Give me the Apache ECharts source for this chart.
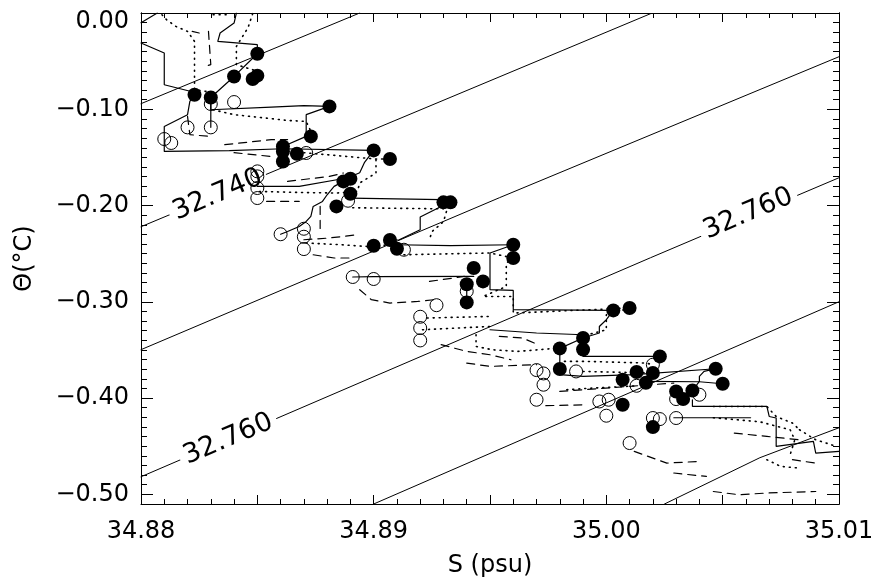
<!DOCTYPE html>
<html><head><meta charset="utf-8">
<script src="https://cdn.jsdelivr.net/npm/echarts@6.0.0/dist/echarts.min.js"></script>
<style>html,body{margin:0;padding:0;background:#fff}#c{width:871px;height:581px}</style>
</head><body><div id="c"></div>
<script>
// ---- axes ----
const xRange = [34.88, 34.91];
const yRange = [-0.51, 0.0];
const xTickValues = [34.88, 34.89, 34.90, 34.91];
const xTickLabels = ['34.88', '34.89', '35.00', '35.01'];
const yTickValues = [-0.5, -0.4, -0.3, -0.2, -0.1, 0.0];
const yTickLabels = ['\u22120.50', '\u22120.40', '\u22120.30', '\u22120.20', '\u22120.10', '0.00'];
const xAxisName = 'S (psu)';
const yAxisName = '\u0398(\u00B0C)';

// ---- isopycnal contours (S, Theta) ----
const contour1 = [[34.8800, -0.0942], [34.8894, 0.0]];
const contour2 = [[34.8800, -0.2220], [34.9019, -0.0007]];
const contour3 = [[34.8800, -0.3497], [34.8954, -0.1919], [34.9100, -0.0454]];
const contour4 = [[34.8800, -0.4817], [34.9019, -0.2542], [34.9100, -0.1711]];
const contour5 = [[34.8900, -0.5100], [34.9100, -0.2999]];
const contour6 = [[34.9025, -0.5100], [34.9066, -0.4619], [34.9100, -0.4308]];
const contourLabelText = ['32.740', '32.760', '32.760'];
const contourLabelS = [34.8833, 34.88375, 34.9061];
const contourLabelT = [-0.1888, -0.4427, -0.2085];

// ---- solid profiles ----
const s1 = [[34.8800,-0.0101],[34.8807,0.0]];
const s2 = [[34.8800,-0.0312],[34.8810,-0.0416],[34.8810,-0.0745],[34.8822,-0.0818],[34.8823,-0.0849]];
const s3 = [[34.8841,0.0],[34.8840,-0.0104],[34.8834,-0.0208],[34.8833,-0.0295],[34.8850,-0.0329],[34.8850,-0.0423]];
const s4 = [[34.8830,-0.0877],[34.8840,-0.0659],[34.8850,-0.0423]];
const s5 = [[34.8823,-0.0849],[34.8821,-0.0918],[34.8820,-0.1056],[34.8810,-0.1178],[34.8810,-0.1438],[34.8838,-0.1430],[34.8861,-0.1410],[34.8900,-0.1427]];
const s6 = [[34.8830,-0.0877],[34.8830,-0.1005],[34.8856,-0.0977],[34.8870,-0.0963],[34.8881,-0.0970]];
const s7 = [[34.8881,-0.0970],[34.8871,-0.1056],[34.8871,-0.1282],[34.8861,-0.1386]];
const s8 = [[34.8900,-0.1427],[34.8896,-0.1555],[34.8894,-0.1659],[34.8890,-0.1701],[34.8887,-0.1749],[34.8883,-0.1801],[34.8880,-0.1888],[34.8878,-0.1957],[34.8874,-0.2009],[34.8873,-0.2113],[34.8871,-0.2165],[34.8868,-0.2217],[34.8863,-0.2269],[34.8860,-0.2298]];
const s9 = [[34.8850,-0.1801],[34.8868,-0.1801],[34.8886,-0.1724],[34.8890,-0.1721]];
const s10 = [[34.8890,-0.1922],[34.8929,-0.1939],[34.8933,-0.1967]];
const s11 = [[34.8930,-0.1967],[34.8929,-0.2009],[34.8920,-0.2119],[34.8920,-0.2251],[34.8911,-0.2355],[34.8907,-0.2358]];
const s12 = [[34.8910,-0.2407],[34.8933,-0.2417],[34.8960,-0.2407]];
const s13 = [[34.8960,-0.2407],[34.8950,-0.2493],[34.8950,-0.2874],[34.8960,-0.2882],[34.8960,-0.3082],[34.9003,-0.3089]];
const s14 = [[34.8891,-0.2742],[34.8900,-0.2739],[34.8943,-0.2736]];
const s15 = [[34.9003,-0.3089],[34.9000,-0.3186],[34.8997,-0.3256],[34.8997,-0.3324],[34.8990,-0.3376]];
const s16 = [[34.8950,-0.3290],[34.8970,-0.3324],[34.8990,-0.3342]];
const s17 = [[34.8990,-0.3567],[34.9023,-0.3567]];
const s18 = [[34.8980,-0.3757],[34.8990,-0.3775],[34.9012,-0.3757],[34.9047,-0.3695]];
const s19 = [[34.9047,-0.3695],[34.9042,-0.3723],[34.9040,-0.3775],[34.9040,-0.3827],[34.9037,-0.3921]];
const s20 = [[34.9017,-0.3827],[34.9040,-0.3830],[34.9050,-0.3851]];
const s21 = [[34.9037,-0.4017],[34.9037,-0.4087],[34.9069,-0.4087],[34.9070,-0.4191],[34.9073,-0.4207],[34.9073,-0.4502],[34.9089,-0.4450],[34.9090,-0.4571],[34.9100,-0.4554]];
const s22 = [[34.9029,-0.4204],[34.9062,-0.4204]];
const s23 = [[34.8980,-0.3484],[34.8990,-0.3376]];
const s24 = [[34.8980,-0.3484],[34.8980,-0.3698]];
const s25 = [[34.8940,-0.2817],[34.8940,-0.3006]];
const s26 = [[34.8830,-0.0945],[34.8830,-0.1188]];
const solidProfiles = [s1,s2,s3,s4,s5,s6,s7,s8,s9,s10,s11,s12,s13,s14,s15,s16,s17,s18,s19,s20,s21,s22,s23,s24,s25,s26];

// ---- dotted profiles ----
const d1 = [[34.8809,-0.0018],[34.8811,-0.0070],[34.8815,-0.0139],[34.8820,-0.0191],[34.8823,-0.0295],[34.8823,-0.0797],[34.8828,-0.0814]];
const d2 = [[34.8831,-0.0018],[34.8838,-0.0018]];
const d3 = [[34.8848,-0.0007],[34.8846,-0.0153],[34.8841,-0.0347],[34.8841,-0.0537],[34.8848,-0.0589],[34.8850,-0.0610]];
const d4 = [[34.8831,-0.1005],[34.8840,-0.1056],[34.8863,-0.1116],[34.8871,-0.1126],[34.8873,-0.1230],[34.8873,-0.1282]];
const d5 = [[34.8870,-0.1451],[34.8901,-0.1517],[34.8907,-0.1517]];
const d6 = [[34.8901,-0.1524],[34.8901,-0.1662],[34.8894,-0.1766],[34.8893,-0.1853],[34.8884,-0.1870],[34.8868,-0.1864],[34.8850,-0.1853]];
const d7 = [[34.8891,-0.2023],[34.8926,-0.2033],[34.8930,-0.2033]];
const d8 = [[34.8932,-0.2002],[34.8930,-0.2168],[34.8925,-0.2272],[34.8924,-0.2355]];
const d9 = [[34.8871,-0.2389],[34.8886,-0.2407],[34.8897,-0.2425],[34.8907,-0.2407]];
const d10 = [[34.8913,-0.2511],[34.8950,-0.2493],[34.8960,-0.2545]];
const d11 = [[34.8960,-0.2545],[34.8957,-0.2597],[34.8957,-0.2840],[34.8947,-0.2944],[34.8960,-0.2944],[34.8960,-0.3117],[34.9010,-0.3064]];
const d12 = [[34.9010,-0.3064],[34.9000,-0.3134],[34.9000,-0.3290],[34.8992,-0.3342],[34.8990,-0.3495]];
const d13 = [[34.8921,-0.3290],[34.8950,-0.3256]];
const d14 = [[34.8923,-0.3168],[34.8950,-0.3152]];
const d15 = [[34.8944,-0.3342],[34.8944,-0.3463],[34.8951,-0.3498],[34.8962,-0.3515],[34.8980,-0.3480]];
const d16 = [[34.8982,-0.3619],[34.8992,-0.3619],[34.9017,-0.3636],[34.9020,-0.3653]];
const d17 = [[34.8990,-0.3723],[34.9020,-0.3740]];
const d18 = [[34.8983,-0.3913],[34.8994,-0.3896],[34.9004,-0.3885],[34.9013,-0.3872]];
const d19 = [[34.9046,-0.4087],[34.9069,-0.4087],[34.9073,-0.4191],[34.9080,-0.4259],[34.9083,-0.4329]];
const d20 = [[34.9069,-0.4640],[34.9075,-0.4710],[34.9083,-0.4727]];
const d21 = [[34.9083,-0.4329],[34.9090,-0.4433],[34.9099,-0.4502]];
const d22 = [[34.9046,-0.4204],[34.9066,-0.4246],[34.9079,-0.4329],[34.9081,-0.4433],[34.9079,-0.4588]];
const dottedProfiles = [d1,d2,d3,d4,d5,d6,d7,d8,d9,d10,d11,d12,d13,d14,d15,d16,d17,d18,d19,d20,d21,d22];

// ---- dashed profiles ----
const h1 = [[34.8822,-0.0191],[34.8825,-0.0208]];
const h2 = [[34.8829,-0.0191],[34.8830,-0.0537],[34.8827,-0.0555]];
const h3 = [[34.8820,-0.1074],[34.8821,-0.1264],[34.8830,-0.1282]];
const h4 = [[34.8836,-0.1368],[34.8856,-0.1316],[34.8863,-0.1316]];
const h5 = [[34.8840,-0.1451],[34.8856,-0.1490]];
const h6 = [[34.8863,-0.1749],[34.8881,-0.1697],[34.8887,-0.1662]];
const h7 = [[34.8854,-0.1957],[34.8868,-0.1957]];
const h8 = [[34.8877,-0.2009],[34.8877,-0.2285]];
const h9 = [[34.8870,-0.2355],[34.8881,-0.2337],[34.8893,-0.2303]];
const h10 = [[34.8874,-0.2511],[34.8883,-0.2545],[34.8890,-0.2545]];
const h11 = [[34.8894,-0.2874],[34.8899,-0.2978],[34.8907,-0.3013],[34.8919,-0.2996],[34.8926,-0.2978]];
const h12 = [[34.8924,-0.2788],[34.8939,-0.2736]];
const h13 = [[34.8954,-0.3359],[34.8964,-0.3376],[34.8969,-0.3428]];
const h14 = [[34.8940,-0.3636],[34.8950,-0.3671],[34.8970,-0.3653]];
const h15 = [[34.8980,-0.3931],[34.9029,-0.3844]];
const h16 = [[34.8974,-0.4079],[34.8992,-0.4069]];
const h17 = [[34.9012,-0.4554],[34.9026,-0.4675],[34.9040,-0.4658]];
const h18 = [[34.9029,-0.4778],[34.9043,-0.4814]];
const h19 = [[34.9046,-0.4970],[34.9057,-0.5004],[34.9069,-0.4986],[34.9090,-0.4970]];
const h20 = [[34.9055,-0.4363],[34.9069,-0.4398],[34.9083,-0.4433]];
const h21 = [[34.9080,-0.4640],[34.9090,-0.4675]];
const h22 = [[34.8929,-0.3445],[34.8940,-0.3515],[34.8950,-0.3550],[34.8959,-0.3602]];
const dashedProfiles = [h1,h2,h3,h4,h5,h6,h7,h8,h9,h10,h11,h12,h13,h14,h15,h16,h17,h18,h19,h20,h21,h22];

// ---- circle markers ----
const filledS = [34.8850,34.8840,34.8848,34.8850,34.8823,34.8830,34.8881,34.8861,34.8861,34.8867,34.8861,34.8873,34.8900,34.8907,34.8887,34.8890,34.8890,34.8884,34.8930,34.8933,34.8900,34.8907,34.8910,34.8960,34.8960,34.8943,34.8947,34.8940,34.8940,34.9003,34.9010,34.8990,34.8990,34.8980,34.8980,34.9023,34.9013,34.9020,34.9007,34.9017,34.9047,34.9050,34.9030,34.9037,34.9033,34.9007,34.9020];
const filledT = [-0.0423,-0.0659,-0.0686,-0.0651,-0.0849,-0.0877,-0.0970,-0.1386,-0.1438,-0.1462,-0.1542,-0.1282,-0.1427,-0.1517,-0.1749,-0.1721,-0.1877,-0.2009,-0.1967,-0.1967,-0.2417,-0.2358,-0.2448,-0.2407,-0.2545,-0.2649,-0.2788,-0.2817,-0.3006,-0.3089,-0.3064,-0.3376,-0.3495,-0.3484,-0.3698,-0.3567,-0.3729,-0.3740,-0.3809,-0.3840,-0.3695,-0.3851,-0.3931,-0.3921,-0.4010,-0.4069,-0.4301];
const openS = [34.8830,34.8840,34.8820,34.8830,34.8810,34.8813,34.8871,34.8850,34.8850,34.8850,34.8850,34.8889,34.8860,34.8870,34.8870,34.8870,34.8913,34.8891,34.8900,34.8940,34.8927,34.8920,34.8920,34.8920,34.8970,34.8973,34.8973,34.8970,34.8987,34.9013,34.8997,34.9001,34.9000,34.9020,34.9040,34.9030,34.9020,34.9023,34.9030,34.9010];
const openT = [-0.0945,-0.0925,-0.1188,-0.1188,-0.1309,-0.1350,-0.1454,-0.1645,-0.1697,-0.1818,-0.1922,-0.1950,-0.2298,-0.2241,-0.2324,-0.2452,-0.2459,-0.2742,-0.2763,-0.2890,-0.3035,-0.3155,-0.3272,-0.3401,-0.3709,-0.3744,-0.3861,-0.4017,-0.3723,-0.3872,-0.4035,-0.4017,-0.4183,-0.3653,-0.3965,-0.4010,-0.4207,-0.4218,-0.4207,-0.4467];

// ---- build ----
const FONT = 'DejaVu Sans';
const yMinorTicks = [];
for (let k = 0; k <= 51; k++) yMinorTicks.push(+(yRange[0] + k * 0.01).toFixed(2));

function lineSeries(data, type, width, z) {
  return { type: 'line', data: data, symbol: 'none', silent: true, clip: true, z: z,
    xAxisIndex: 0, yAxisIndex: 0, lineStyle: { color: '#000', width: width, type: type, cap: 'round' } };
}
const series = [];
[contour1, contour2, contour3, contour4, contour5, contour6].forEach(c => series.push(lineSeries(c, 'solid', 1, 1)));
series.push({
  type: 'scatter', z: 2, silent: true, symbolSize: 0,
  itemStyle: { color: 'rgba(255,255,255,0)', opacity: 1 },
  data: contourLabelText.map((t, i) => ({ name: t, value: [contourLabelS[i], contourLabelT[i]] })),
  label: { show: true, position: 'inside', formatter: p => p.name, rotate: 23, fontSize: 27,
    fontFamily: FONT, color: '#000', backgroundColor: '#fff', padding: [0, 5] },
  labelLayout: { hideOverlap: false }
});
solidProfiles.forEach(p => series.push(lineSeries(p, 'solid', 1.2, 3)));
dottedProfiles.forEach(p => series.push(lineSeries(p, [1, 5], 1.6, 3)));
dashedProfiles.forEach(p => series.push(lineSeries(p, [8, 6], 1.2, 3)));
series.push({ type: 'scatter', z: 4, silent: true, symbol: 'circle', symbolSize: 13,
  itemStyle: { color: 'rgba(0,0,0,0)', borderColor: '#000', borderWidth: 1, opacity: 1 },
  data: openS.map((s, i) => [s, openT[i]]) });
series.push({ type: 'scatter', z: 5, silent: true, symbol: 'circle', symbolSize: 14,
  itemStyle: { color: '#000', opacity: 1 }, data: filledS.map((s, i) => [s, filledT[i]]) });

const tickStyle = { color: '#000', width: 1 };
function xAx(pos, labels) {
  return { type: 'value', position: pos, min: xRange[0], max: xRange[1], interval: 0.005,
    name: labels ? xAxisName : '', nameLocation: 'middle', nameGap: 50,
    nameTextStyle: { fontSize: 24, fontFamily: FONT, color: '#000' },
    axisLine: { show: true, onZero: false, lineStyle: tickStyle },
    axisTick: { show: true, inside: true, length: 9, lineStyle: tickStyle },
    minorTick: { show: true, splitNumber: 5, length: 5, lineStyle: tickStyle },
    splitLine: { show: false }, minorSplitLine: { show: false },
    axisLabel: { show: labels, customValues: xTickValues, margin: 16, fontSize: 24, fontFamily: FONT, color: '#000',
      formatter: v => { const i = xTickValues.findIndex(t => Math.abs(t - v) < 1e-7); return i < 0 ? '' : xTickLabels[i]; } } };
}
function yAx(pos, major, labels) {
  return { type: 'value', position: pos, min: yRange[0], max: yRange[1],
    name: labels ? yAxisName : '', nameLocation: 'middle', nameGap: 104, nameRotate: 90,
    nameTextStyle: { fontSize: 24, fontFamily: FONT, color: '#000' },
    axisLine: { show: true, onZero: false, lineStyle: tickStyle },
    axisTick: { show: true, inside: true, length: major ? 12 : 6, customValues: major ? yTickValues : yMinorTicks, lineStyle: tickStyle },
    splitLine: { show: false },
    axisLabel: { show: labels, customValues: yTickValues, margin: 12, fontSize: 24, fontFamily: FONT, color: '#000',
      formatter: v => { const i = yTickValues.findIndex(t => Math.abs(t - v) < 1e-7); if (i < 0) return '';
        return Math.abs(v) < 1e-9 ? '{top|' + yTickLabels[i] + '}' : yTickLabels[i]; },
      rich: { top: { fontSize: 24, fontFamily: FONT, color: '#000', padding: [18, 0, 0, 0] } } } };
}

const chart = echarts.init(document.getElementById('c'), null, { renderer: 'canvas' });
chart.setOption({
  animation: false,
  backgroundColor: '#fff',
  grid: { left: 141, right: 32, top: 13, bottom: 77, containLabel: false, outerBoundsMode: 'none' },
  xAxis: [xAx('bottom', true), xAx('top', false)],
  yAxis: [yAx('left', true, true), yAx('right', true, false), yAx('right', false, false), yAx('left', false, false)],
  series: series
});
</script></body></html>
